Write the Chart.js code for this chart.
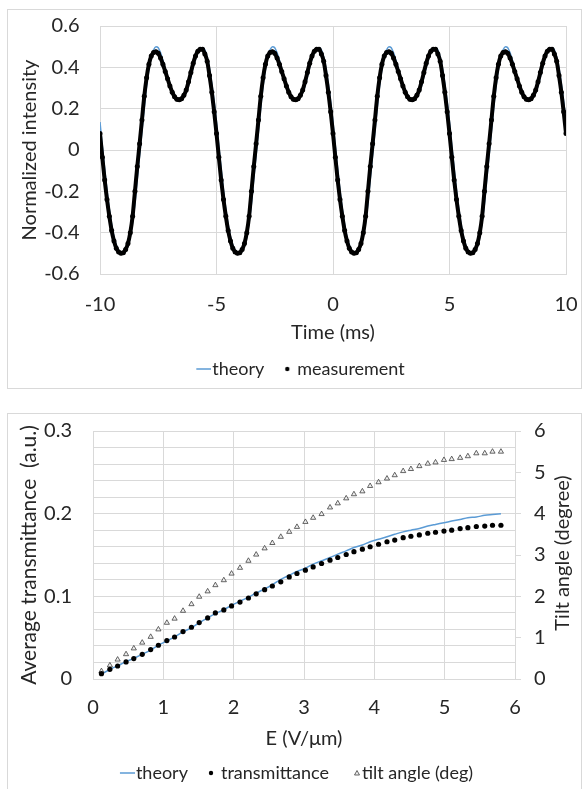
<!DOCTYPE html>
<html>
<head>
<meta charset="utf-8">
<script src="https://cdn.jsdelivr.net/npm/chart.js@4/dist/chart.umd.min.js"></script>
<style>
  html, body { margin: 0; padding: 0; background: #fff; }
  body { width: 582px; height: 789px; position: relative; overflow: hidden; }
  .box { position: absolute; border: 1px solid #d9d9d9; box-sizing: border-box; }
  canvas { position: absolute; display: block; }
</style>
</head>
<body>
<div class="box" style="left:7px; top:9px; width:575px; height:380px;"></div>
<div class="box" style="left:7px; top:413px; width:575px; height:390px;"></div>
<canvas id="chart_time" width="570" height="380" style="left:8px; top:10px;"></canvas>
<canvas id="chart_field" width="570" height="380" style="left:8px; top:414px;"></canvas>
<script>
// ---- top chart: normalized intensity vs time ----
var time_ms = [
  -10, -9.9, -9.8, -9.7, -9.6, -9.5, -9.4, -9.3, -9.2, -9.1,
  -9, -8.9, -8.8, -8.7, -8.6, -8.5, -8.4, -8.3, -8.2, -8.1,
  -8, -7.9, -7.8, -7.7, -7.6, -7.5, -7.4, -7.3, -7.2, -7.1,
  -7, -6.9, -6.8, -6.7, -6.6, -6.5, -6.4, -6.3, -6.2, -6.1,
  -6, -5.9, -5.8, -5.7, -5.6, -5.5, -5.4, -5.3, -5.2, -5.1,
  -5, -4.9, -4.8, -4.7, -4.6, -4.5, -4.4, -4.3, -4.2, -4.1,
  -4, -3.9, -3.8, -3.7, -3.6, -3.5, -3.4, -3.3, -3.2, -3.1,
  -3, -2.9, -2.8, -2.7, -2.6, -2.5, -2.4, -2.3, -2.2, -2.1,
  -2, -1.9, -1.8, -1.7, -1.6, -1.5, -1.4, -1.3, -1.2, -1.1,
  -1, -0.9, -0.8, -0.7, -0.6, -0.5, -0.4, -0.3, -0.2, -0.1,
  0, 0.1, 0.2, 0.3, 0.4, 0.5, 0.6, 0.7, 0.8, 0.9,
  1, 1.1, 1.2, 1.3, 1.4, 1.5, 1.6, 1.7, 1.8, 1.9,
  2, 2.1, 2.2, 2.3, 2.4, 2.5, 2.6, 2.7, 2.8, 2.9,
  3, 3.1, 3.2, 3.3, 3.4, 3.5, 3.6, 3.7, 3.8, 3.9,
  4, 4.1, 4.2, 4.3, 4.4, 4.5, 4.6, 4.7, 4.8, 4.9,
  5, 5.1, 5.2, 5.3, 5.4, 5.5, 5.6, 5.7, 5.8, 5.9,
  6, 6.1, 6.2, 6.3, 6.4, 6.5, 6.6, 6.7, 6.8, 6.9,
  7, 7.1, 7.2, 7.3, 7.4, 7.5, 7.6, 7.7, 7.8, 7.9,
  8, 8.1, 8.2, 8.3, 8.4, 8.5, 8.6, 8.7, 8.8, 8.9,
  9, 9.1, 9.2, 9.3, 9.4, 9.5, 9.6, 9.7, 9.8, 9.9,
  10
];

var theory_intensity = [
  0.135, 0.02, -0.09, -0.195, -0.285, -0.36, -0.42, -0.46, -0.485, -0.497,
  -0.50, -0.49, -0.465, -0.42, -0.35, -0.26, -0.14, -0.025, 0.09, 0.205,
  0.31, 0.39, 0.45, 0.485, 0.50, 0.495, 0.47, 0.435, 0.395, 0.355,
  0.32, 0.29, 0.265, 0.25, 0.245, 0.247, 0.258, 0.278, 0.31, 0.353,
  0.40, 0.44, 0.472, 0.49, 0.495, 0.485, 0.45, 0.395, 0.32, 0.235,
  0.135, 0.02, -0.09, -0.195, -0.285, -0.36, -0.42, -0.46, -0.485, -0.497,
  -0.50, -0.49, -0.465, -0.42, -0.35, -0.26, -0.14, -0.025, 0.09, 0.205,
  0.31, 0.39, 0.45, 0.485, 0.50, 0.495, 0.47, 0.435, 0.395, 0.355,
  0.32, 0.29, 0.265, 0.25, 0.245, 0.247, 0.258, 0.278, 0.31, 0.353,
  0.40, 0.44, 0.472, 0.49, 0.495, 0.485, 0.45, 0.395, 0.32, 0.235,
  0.135, 0.02, -0.09, -0.195, -0.285, -0.36, -0.42, -0.46, -0.485, -0.497,
  -0.50, -0.49, -0.465, -0.42, -0.35, -0.26, -0.14, -0.025, 0.09, 0.205,
  0.31, 0.39, 0.45, 0.485, 0.50, 0.495, 0.47, 0.435, 0.395, 0.355,
  0.32, 0.29, 0.265, 0.25, 0.245, 0.247, 0.258, 0.278, 0.31, 0.353,
  0.40, 0.44, 0.472, 0.49, 0.495, 0.485, 0.45, 0.395, 0.32, 0.235,
  0.135, 0.02, -0.09, -0.195, -0.285, -0.36, -0.42, -0.46, -0.485, -0.497,
  -0.50, -0.49, -0.465, -0.42, -0.35, -0.26, -0.14, -0.025, 0.09, 0.205,
  0.31, 0.39, 0.45, 0.485, 0.50, 0.495, 0.47, 0.435, 0.395, 0.355,
  0.32, 0.29, 0.265, 0.25, 0.245, 0.247, 0.258, 0.278, 0.31, 0.353,
  0.40, 0.44, 0.472, 0.49, 0.495, 0.485, 0.45, 0.395, 0.32, 0.235,
  0.135
];

var measured_intensity = [
  0.08, -0.035, -0.145, -0.24, -0.32, -0.39, -0.44, -0.475, -0.493, -0.50,
  -0.497, -0.481, -0.452, -0.40, -0.32, -0.20, -0.08, 0.03, 0.145, 0.26,
  0.35, 0.415, 0.455, 0.472, 0.476, 0.468, 0.445, 0.415, 0.38, 0.345,
  0.31, 0.28, 0.258, 0.245, 0.243, 0.248, 0.265, 0.29, 0.33, 0.375,
  0.42, 0.455, 0.478, 0.488, 0.488, 0.465, 0.43, 0.36, 0.28, 0.185,
  0.08, -0.035, -0.145, -0.24, -0.32, -0.39, -0.44, -0.475, -0.493, -0.50,
  -0.497, -0.481, -0.452, -0.40, -0.32, -0.20, -0.08, 0.03, 0.145, 0.26,
  0.35, 0.415, 0.455, 0.472, 0.476, 0.468, 0.445, 0.415, 0.38, 0.345,
  0.31, 0.28, 0.258, 0.245, 0.243, 0.248, 0.265, 0.29, 0.33, 0.375,
  0.42, 0.455, 0.478, 0.488, 0.488, 0.465, 0.43, 0.36, 0.28, 0.185,
  0.08, -0.035, -0.145, -0.24, -0.32, -0.39, -0.44, -0.475, -0.493, -0.50,
  -0.497, -0.481, -0.452, -0.40, -0.32, -0.20, -0.08, 0.03, 0.145, 0.26,
  0.35, 0.415, 0.455, 0.472, 0.476, 0.468, 0.445, 0.415, 0.38, 0.345,
  0.31, 0.28, 0.258, 0.245, 0.243, 0.248, 0.265, 0.29, 0.33, 0.375,
  0.42, 0.455, 0.478, 0.488, 0.488, 0.465, 0.43, 0.36, 0.28, 0.185,
  0.08, -0.035, -0.145, -0.24, -0.32, -0.39, -0.44, -0.475, -0.493, -0.50,
  -0.497, -0.481, -0.452, -0.40, -0.32, -0.20, -0.08, 0.03, 0.145, 0.26,
  0.35, 0.415, 0.455, 0.472, 0.476, 0.468, 0.445, 0.415, 0.38, 0.345,
  0.31, 0.28, 0.258, 0.245, 0.243, 0.248, 0.265, 0.29, 0.33, 0.375,
  0.42, 0.455, 0.478, 0.488, 0.488, 0.465, 0.43, 0.36, 0.28, 0.185,
  0.08
];

// ---- bottom chart: transmittance / tilt vs field ----
var field_E = [
  0.12, 0.24, 0.35, 0.47, 0.58, 0.70, 0.82, 0.93, 1.05, 1.16,
  1.28, 1.40, 1.51, 1.63, 1.74, 1.86, 1.97, 2.09, 2.21, 2.32,
  2.44, 2.55, 2.67, 2.79, 2.90, 3.02, 3.13, 3.25, 3.37, 3.48,
  3.60, 3.71, 3.83, 3.94, 4.06, 4.18, 4.29, 4.41, 4.52, 4.64,
  4.76, 4.87, 4.99, 5.10, 5.22, 5.33, 5.45, 5.57, 5.68, 5.80
];
var theory_T = [
  0.006, 0.0115, 0.016, 0.021, 0.025, 0.030, 0.035, 0.041, 0.046, 0.051,
  0.057, 0.062, 0.068, 0.074, 0.079, 0.084, 0.089, 0.094, 0.099, 0.104,
  0.109, 0.114, 0.1205, 0.1255, 0.130, 0.134, 0.139, 0.143, 0.147, 0.151,
  0.155, 0.159, 0.162, 0.166, 0.169, 0.172, 0.175, 0.178, 0.180, 0.182,
  0.185, 0.187, 0.189, 0.191, 0.193, 0.195, 0.196, 0.198, 0.199, 0.200
];
var transmittance = [
  0.0065, 0.0117, 0.0157, 0.0206, 0.0247, 0.0299, 0.0356, 0.0408, 0.0465, 0.0508,
  0.0574, 0.0626, 0.0683, 0.0739, 0.0799, 0.0835, 0.0884, 0.093, 0.098, 0.103,
  0.108, 0.1125, 0.1175, 0.1235, 0.1276, 0.1316, 0.1356, 0.1397, 0.1437, 0.147,
  0.1506, 0.154, 0.157, 0.160, 0.163, 0.166, 0.168, 0.171, 0.1727, 0.1743,
  0.1763, 0.1775, 0.179, 0.180, 0.182, 0.183, 0.1845, 0.185, 0.186, 0.186
];
var tilt_deg = [
  0.19, 0.33, 0.47, 0.60, 0.74, 0.88, 1.02, 1.20, 1.36, 1.46,
  1.65, 1.81, 1.99, 2.12, 2.27, 2.39, 2.55, 2.69, 2.86, 3.01,
  3.16, 3.29, 3.44, 3.56, 3.68, 3.80, 3.90, 3.99, 4.15, 4.25,
  4.37, 4.47, 4.54, 4.67, 4.76, 4.85, 4.93, 5.03, 5.08, 5.15,
  5.21, 5.24, 5.30, 5.32, 5.35, 5.39, 5.46, 5.46, 5.50, 5.50
];

var textColor = '#262626';
var gridColor = '#d9d9d9';
var blue = '#5b9bd5';
var fontFamily = 'Lato, "Open Sans", sans-serif';

function pts(xs, ys) {
  return xs.map(function (x, i) { return {x: x, y: ys[i]}; });
}

// small legend icons
function makeIcon(kind) {
  var c = document.createElement('canvas');
  c.width = 30; c.height = 10;
  var g = c.getContext('2d');
  if (kind === 'line') {
    g.strokeStyle = blue; g.lineWidth = 1.5;
    g.beginPath(); g.moveTo(15, 5); g.lineTo(30, 5); g.stroke();
  } else if (kind === 'dot') {
    g.fillStyle = '#000';
    g.beginPath(); g.arc(21, 5, 2.2, 0, Math.PI * 2); g.fill();
  } else {
    g.strokeStyle = '#404040'; g.fillStyle = '#eeeeee'; g.lineWidth = 0.8;
    g.beginPath(); g.moveTo(26, 2.5); g.lineTo(28.5, 7); g.lineTo(23.5, 7); g.closePath();
    g.fill(); g.stroke();
  }
  return c;
}

function legendOpts(icons) {
  return {
    position: 'bottom',
    labels: {
      usePointStyle: true,
      pointStyleWidth: 14,
      padding: 10,
      color: textColor,
      font: {family: fontFamily, size: 18},
      generateLabels: function (chart) {
        return chart.data.datasets.map(function (ds, i) {
          return {
            text: ds.label, pointStyle: icons[i], datasetIndex: i,
            fontColor: textColor, hidden: false, lineWidth: 0,
            strokeStyle: 'rgba(0,0,0,0)', fillStyle: 'rgba(0,0,0,0)'
          };
        });
      }
    }
  };
}

// fixed axis sizes, and no extra label overflow padding
function fixX(h) {
  return function (s) { s.height = h; s.paddingLeft = 0; s.paddingRight = 0; };
}
function fixY(w) {
  return function (s) { s.width = w; s.paddingTop = 0; s.paddingBottom = 0; };
}

new Chart(document.getElementById('chart_time'), {
  type: 'scatter',
  data: {
    datasets: [
      {
        label: 'theory',
        data: pts(time_ms, theory_intensity),
        showLine: true, borderColor: blue, borderWidth: 1.5,
        pointRadius: 0, cubicInterpolationMode: 'monotone', order: 2
      },
      {
        label: 'measurement',
        data: pts(time_ms, measured_intensity),
        showLine: true, borderColor: '#000', borderWidth: 4,
        pointRadius: 2.5, pointBackgroundColor: '#000', pointBorderWidth: 0,
        cubicInterpolationMode: 'monotone', order: 1
      }
    ]
  },
  options: {
    responsive: false,
    animation: false,
    devicePixelRatio: 1,
    layout: {padding: {left: 20, right: 12, top: 16, bottom: 2}},
    plugins: {legend: legendOpts([makeIcon('line'), makeIcon('dot')]), tooltip: {enabled: false}},
    scales: {
      x: {
        type: 'linear', min: -10, max: 10,
        ticks: {stepSize: 5, padding: 19, color: textColor, font: {family: fontFamily, size: 20}},
        grid: {color: gridColor, drawTicks: false},
        border: {color: gridColor},
        title: {display: true, text: 'Time (ms)', color: textColor, font: {family: fontFamily, size: 20}, padding: {top: 0, bottom: 5}},
        afterFit: fixX(76)
      },
      y: {
        min: -0.6, max: 0.6,
        ticks: {
          stepSize: 0.2, padding: 20.5, color: textColor, font: {family: fontFamily, size: 20},
          callback: function (v) { return Math.abs(v) < 1e-9 ? '0' : v.toFixed(1); }
        },
        grid: {color: gridColor, drawTicks: false},
        border: {color: gridColor},
        title: {display: true, text: 'Normalized intensity', color: textColor, font: {family: fontFamily, size: 20}, padding: {top: -10, bottom: 0}},
        afterFit: fixY(72)
      }
    }
  }
});

var rightTitle = {
  id: 'rightTitle',
  afterDraw: function (chart) {
    var ctx = chart.ctx, a = chart.chartArea, s = chart.scales.y2;
    ctx.save();
    ctx.translate(s.right - 15, (a.top + a.bottom) / 2 - 2);
    ctx.rotate(-Math.PI / 2);
    ctx.font = '20px ' + fontFamily;
    ctx.fillStyle = textColor;
    ctx.textAlign = 'center';
    ctx.textBaseline = 'middle';
    ctx.fillText('Tilt angle (degree)', 0, 0);
    ctx.restore();
  }
};

new Chart(document.getElementById('chart_field'), {
  type: 'scatter',
  data: {
    datasets: [
      {
        label: 'theory',
        data: pts(field_E, theory_T),
        showLine: true, borderColor: blue, borderWidth: 1.5,
        pointRadius: 0, cubicInterpolationMode: 'monotone', yAxisID: 'y', order: 3
      },
      {
        label: 'transmittance',
        data: pts(field_E, transmittance),
        pointRadius: 2.6, pointBackgroundColor: '#000', pointBorderWidth: 0,
        yAxisID: 'y', order: 1
      },
      {
        label: 'tilt angle (deg)',
        data: pts(field_E, tilt_deg),
        pointStyle: 'triangle', pointRadius: 3,
        pointBackgroundColor: '#eeeeee', pointBorderColor: '#404040', pointBorderWidth: 0.8,
        yAxisID: 'y2', order: 2
      }
    ]
  },
  options: {
    responsive: false,
    animation: false,
    devicePixelRatio: 1,
    layout: {padding: {left: 0, right: 0, top: 17, bottom: 2}},
    plugins: {legend: legendOpts([makeIcon('line'), makeIcon('dot'), makeIcon('tri')]), tooltip: {enabled: false}},
    scales: {
      x: {
        type: 'linear', min: 0, max: 6,
        ticks: {stepSize: 1, padding: 17, color: textColor, font: {family: fontFamily, size: 20}},
        grid: {color: gridColor, drawTicks: false},
        border: {color: gridColor},
        title: {display: true, text: 'E (V/\u03bcm)', color: textColor, font: {family: fontFamily, size: 20}, padding: {top: 0, bottom: 3}},
        afterFit: fixX(75)
      },
      y: {
        position: 'left', min: 0, max: 0.3,
        ticks: {
          stepSize: 0.02, autoSkip: false, padding: 21, color: textColor, font: {family: fontFamily, size: 20},
          callback: function (v) {
            if (Math.abs(v * 10 - Math.round(v * 10)) > 1e-6) return '';
            return Math.abs(v) < 1e-9 ? '0' : v.toFixed(1);
          }
        },
        grid: {color: gridColor, drawTicks: false},
        border: {color: gridColor},
        title: {display: true, text: 'Average transmittance  (a.u.)', color: textColor, font: {family: fontFamily, size: 21}, padding: {top: 9, bottom: 0}},
        afterFit: fixY(85)
      },
      y2: {
        position: 'right', min: 0, max: 6,
        ticks: {stepSize: 1, padding: 13, color: textColor, font: {family: fontFamily, size: 20}},
        grid: {drawOnChartArea: false, drawTicks: true, tickLength: 6, color: gridColor},
        border: {color: gridColor},
        afterFit: fixY(63)
      }
    }
  },
  plugins: [rightTitle]
});
</script>
</body>
</html>
